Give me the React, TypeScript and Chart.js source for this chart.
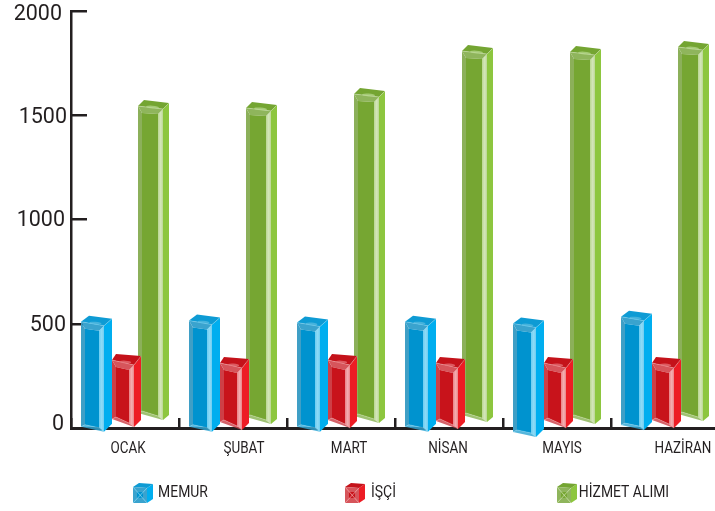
import React, { useEffect, useRef } from "react";
import { Chart, registerables } from "chart.js";

Chart.register(...registerables);

const months = ["OCAK", "ŞUBAT", "MART", "NİSAN", "MAYIS", "HAZİRAN"];
const yTicks = [0, 500, 1000, 1500, 2000];

const memurTop = [510, 515, 506, 510, 501, 534];
const memurLow = [0, 0, 0, 0, -19, 14];
const isciTop = [326, 312, 326, 312, 312, 312];
const isciLow = [43, 29, 38, 34, 38, 38];
const hizmetTop = [1544, 1535, 1602, 1808, 1803, 1827];
const hizmetLow = [72, 53, 58, 62, 53, 67];

const seriesNames = ["MEMUR", "İŞÇİ", "HİZMET ALIMI"];

const INK = "#231F20";
const FONT = "Roboto, sans-serif";

const looks = [
  {
    off: -15.2, fw: 23, topTilt: 4, botTilt: 5, backDx: 8, sideDx: 8, sideDy: -7, botDy: -8,
    face: "#0093CF", side: "#00AEEF", top: "#0E9BD4", topIn: "#45B2DC",
    left: "#3F9FC6", right: "#6CCDF2", rim: "#8FDBF6", tb: "#3AA3CE", bb: "#2FA6D4",
  },
  {
    off: -13, fw: 22, topTilt: 5, botTilt: 8, backDx: 4, sideDx: 7, sideDy: -9, botDy: -7,
    face: "#C8131B", side: "#ED1C24", top: "#C4121A", topIn: "#DC5A60",
    left: "#CE3F46", right: "#EB8286", rim: "#F3B0B3", tb: "#D6555B", bb: "#CC3F48",
  },
  {
    off: -15.8, fw: 25, topTilt: 3, botTilt: 7, backDx: 6, sideDx: 6, sideDy: -6, botDy: -5,
    face: "#76A632", side: "#8DC63F", top: "#74A532", topIn: "#A4CA74",
    left: "#8CB05A", right: "#BAD792", rim: "#D5E6BC", tb: "#8FB55C", bb: "#8AB354",
  },
];

type Pt = [number, number];

function poly(ctx: CanvasRenderingContext2D, pts: Pt[], fill: any) {
  ctx.beginPath();
  pts.forEach((p, i) => (i ? ctx.lineTo(p[0], p[1]) : ctx.moveTo(p[0], p[1])));
  ctx.closePath();
  ctx.fillStyle = fill;
  ctx.fill();
}

function drawBar3D(ctx: CanvasRenderingContext2D, s: (typeof looks)[number], x0: number, ty: number, by: number) {
  const x1 = x0 + s.fw;
  const TL: Pt = [x0, ty];
  const TR: Pt = [x1, ty + s.topTilt];
  const BR: Pt = [x1, by + s.botTilt];
  const BL: Pt = [x0, by];
  const backL: Pt = [x0 + s.backDx, ty - 6];
  const backR: Pt = [x1 + s.sideDx, ty + s.topTilt + s.sideDy];
  const sideB: Pt = [x1 + s.sideDx, by + s.botTilt + s.botDy];

  poly(ctx, [TR, backR, sideB, BR], s.side);
  poly(ctx, [TL, backL, backR, TR], s.top);

  const iL = x0 + 4;
  const iR = x1 - 5;
  const iTL: Pt = [iL, ty + 7];
  const iTR: Pt = [iR, ty + s.topTilt + 5];
  const iBL: Pt = [iL, by - 2];
  const iBR: Pt = [iR, by + s.botTilt - 4];

  poly(ctx, [TL, iTL, iBL, BL], s.left);
  const g = ctx.createLinearGradient(iR, 0, x1, 0);
  g.addColorStop(0, s.right);
  g.addColorStop(0.55, s.rim);
  g.addColorStop(1, s.right);
  poly(ctx, [TR, iTR, iBR, BR], g);
  poly(ctx, [TL, TR, iTR, iTL], s.tb);
  ctx.globalAlpha = 0.82;
  poly(ctx, [BL, BR, iBR, iBL], s.bb);
  ctx.globalAlpha = 1;
  poly(ctx, [iTL, iTR, iBR, iBL], s.face);

  const cx = (x0 + x1 + s.sideDx) / 2 - 1;
  const cy = ty + s.topTilt / 2 - 0.5;
  ctx.beginPath();
  ctx.ellipse(cx, cy, s.fw * 0.26, 1.4, 0.08, 0, Math.PI * 2);
  ctx.fillStyle = s.topIn;
  ctx.fill();

  ctx.strokeStyle = s.rim;
  ctx.globalAlpha = 0.7;
  ctx.lineWidth = 0.6;
  ctx.beginPath();
  ctx.moveTo(TL[0], TL[1]);
  ctx.lineTo(TR[0], TR[1]);
  ctx.lineTo(backR[0], backR[1]);
  ctx.moveTo(BL[0], BL[1]);
  ctx.lineTo(iBL[0], iBL[1]);
  ctx.lineTo(iBR[0], iBR[1]);
  ctx.lineTo(BR[0], BR[1]);
  ctx.stroke();
  ctx.globalAlpha = 1;
}

function drawCube(ctx: CanvasRenderingContext2D, s: (typeof looks)[number], x: number) {
  const y = 487;
  const w = 14;
  const h = 16;
  poly(ctx, [[x + w, y + 1], [x + 20, y - 3], [x + 20, y + h - 4], [x + w, y + h]], s.side);
  poly(ctx, [[x, y], [x + 6, y - 4], [x + 20, y - 3], [x + w, y + 1]], s.top);
  poly(ctx, [[x, y], [x + w, y + 1], [x + w, y + h], [x, y + h]], s.tb);
  poly(ctx, [[x + 4, y + 5], [x + w - 4, y + 5], [x + w - 4, y + h - 5], [x + 4, y + h - 5]], s.face);
  ctx.strokeStyle = s.rim;
  ctx.lineWidth = 0.7;
  ctx.beginPath();
  ctx.moveTo(x, y);
  ctx.lineTo(x + w, y + h);
  ctx.moveTo(x + w, y + 1);
  ctx.lineTo(x, y + h);
  ctx.stroke();
}

function narrowText(ctx: CanvasRenderingContext2D, text: string, cx: number, cy: number, squeeze: number) {
  ctx.save();
  ctx.translate(cx, cy);
  ctx.scale(squeeze, 1);
  ctx.font = `16px ${FONT}`;
  ctx.fillStyle = INK;
  ctx.textAlign = "center";
  ctx.textBaseline = "middle";
  ctx.fillText(text, 0, 0);
  ctx.restore();
}

const labelShift = [3, 11, 8, -1, 5, 18];
const legendIcon = [133, 345, 557];
const legendText = [183, 383.5, 624];
const yLabelRight = [64, 66, 65, 67, 62];
const yLabelDrop = [-3, 2, 1, 2, 4];

const bars3d = {
  id: "bars3d",
  beforeDatasetDraw() {
    return false;
  },
  afterDatasetsDraw(chart: any) {
    const { ctx } = chart;
    ctx.save();
    [2, 1, 0].forEach((d) => {
      const s = looks[d];
      chart.getDatasetMeta(d).data.forEach((el: any) => {
        const top = Math.min(el.y, el.base);
        const bottom = Math.max(el.y, el.base);
        drawBar3D(ctx, s, el.x + s.off, top, bottom);
      });
    });
    ctx.restore();
  },
  afterDraw(chart: any) {
    const { ctx } = chart;
    const x = chart.scales.x;
    const y = chart.scales.y;
    months.forEach((m, i) => {
      narrowText(ctx, m, x.getPixelForTick(i) + labelShift[i], 449, 0.84);
    });
    seriesNames.forEach((n, i) => {
      drawCube(ctx, looks[i], legendIcon[i]);
      narrowText(ctx, n, legendText[i], 493, 0.87);
    });
    ctx.save();
    ctx.font = `21.5px ${FONT}`;
    ctx.fillStyle = INK;
    ctx.textAlign = "right";
    ctx.textBaseline = "middle";
    yTicks.forEach((t, i) => {
      ctx.fillText(String(t), yLabelRight[i], y.getPixelForValue(t) + yLabelDrop[i]);
    });
    ctx.restore();
  },
};

export default function App() {
  const ref = useRef<HTMLCanvasElement>(null);
  useEffect(() => {
    document.body.style.margin = "0";
    document.body.style.overflow = "hidden";
    const zip = (lo: number[], hi: number[]) => lo.map((v, i) => [v, hi[i]]);
    const chart = new Chart(ref.current as HTMLCanvasElement, {
      type: "bar",
      data: {
        labels: months,
        datasets: [
          { label: seriesNames[0], data: zip(memurLow, memurTop) as any, backgroundColor: looks[0].face },
          { label: seriesNames[1], data: zip(isciLow, isciTop) as any, backgroundColor: looks[1].face },
          { label: seriesNames[2], data: zip(hizmetLow, hizmetTop) as any, backgroundColor: looks[2].face },
        ],
      },
      options: {
        responsive: false,
        animation: false,
        layout: { padding: { top: 11, right: 11, left: 0, bottom: 0 } },
        datasets: { bar: { categoryPercentage: 0.8, barPercentage: 1 } },
        plugins: { legend: { display: false }, tooltip: { enabled: false } },
        scales: {
          x: {
            offset: true,
            afterFit: (s: any) => {
              s.height = 83;
              s.paddingLeft = 0;
              s.paddingRight = 0;
            },
            border: { color: INK, width: 3 },
            grid: { offset: true, drawOnChartArea: false, tickLength: -10, color: INK, lineWidth: 2.5 },
            ticks: { display: false },
          },
          y: {
            min: 0,
            max: 2000,
            afterFit: (s: any) => {
              s.width = 71;
              s.paddingTop = 0;
              s.paddingBottom = 0;
            },
            afterBuildTicks: (s: any) => {
              s.ticks = yTicks.map((value) => ({ value }));
            },
            border: { color: INK, width: 2.5 },
            grid: { drawOnChartArea: false, tickLength: -16, color: INK, lineWidth: 2.5 },
            ticks: { display: false },
          },
        },
      } as any,
      plugins: [bars3d],
    });
    return () => chart.destroy();
  }, []);
  return (
    <div style={{ width: 715, height: 511, overflow: "hidden", background: "#fff" }}>
      <canvas ref={ref} width={730} height={511} style={{ display: "block" }} />
    </div>
  );
}
